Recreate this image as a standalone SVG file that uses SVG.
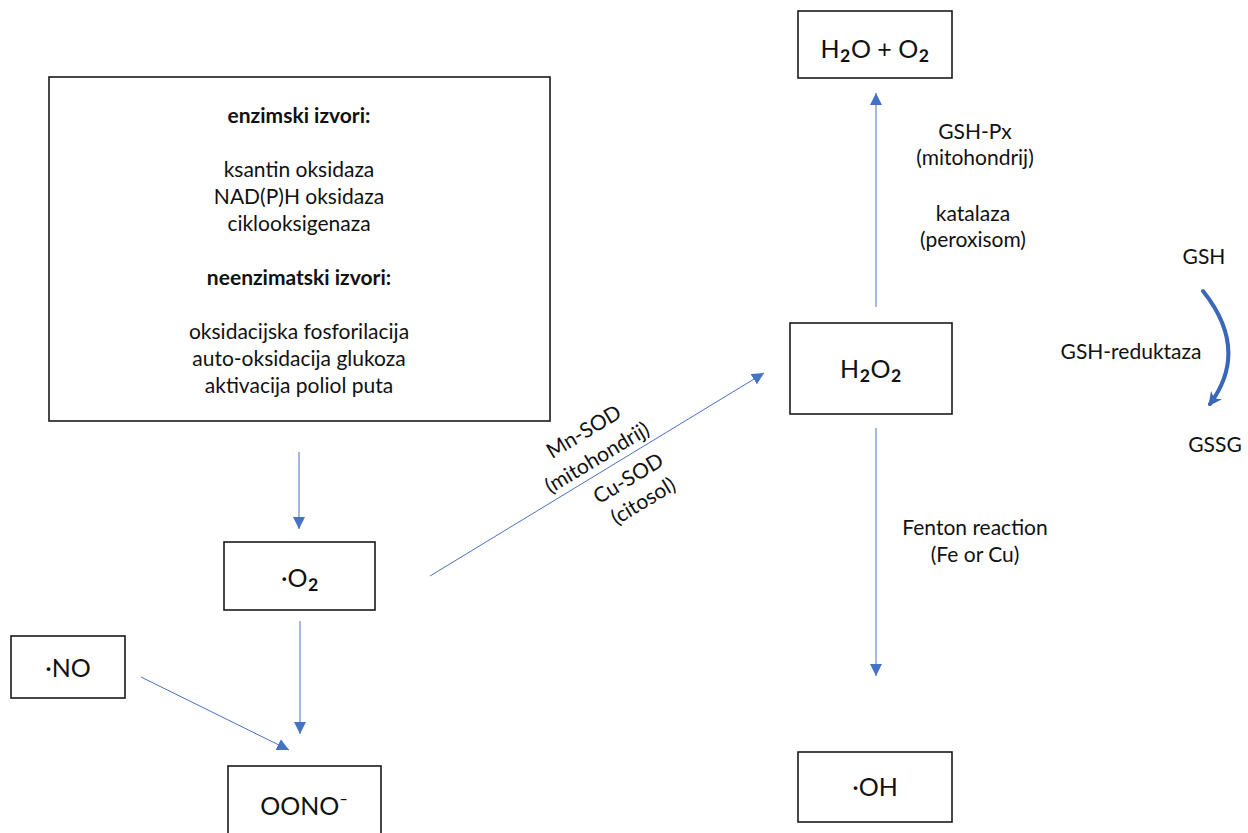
<svg xmlns="http://www.w3.org/2000/svg" width="1248" height="833" viewBox="0 0 1248 833">
<defs>
<style>
.box{fill:#fff;stroke:#1a1a1a;stroke-width:1.6}
.t{font-family:Lato,"Noto Sans","DejaVu Sans",sans-serif;font-size:21px;fill:#111;text-anchor:middle}
.b{font-weight:bold}
.n{font-family:Lato,"Noto Sans","DejaVu Sans",sans-serif;font-size:25px;fill:#111;text-anchor:middle}
.s{font-size:34px}
.c{stroke:#4A72C0;stroke-width:1;fill:none}
.cv{stroke:#3A67B8;stroke-width:4;fill:none;stroke-linecap:round}
</style>
<marker id="ah" markerUnits="userSpaceOnUse" markerWidth="12" markerHeight="12" viewBox="0 0 10 10" refX="10" refY="5" orient="auto">
<path d="M0,0 L10,5 L0,10 z" fill="#4472C4"/>
</marker>
<marker id="ah2" markerUnits="userSpaceOnUse" markerWidth="14" markerHeight="14" viewBox="0 0 10 10" refX="8" refY="5" orient="auto">
<path d="M0,0 L10,5 L0,10 L3,5 z" fill="#3A67B8"/>
</marker>
</defs>

<g id="sources">
<rect class="box" x="49" y="77" width="501" height="344"/>
<text class="t b" x="299" y="123">enzimski izvori:</text>
<text class="t" x="299" y="177">ksantin oksidaza</text>
<text class="t" x="299" y="204">NAD(P)H oksidaza</text>
<text class="t" x="299" y="231">ciklooksigenaza</text>
<text class="t b" x="299" y="285">neenzimatski izvori:</text>
<text class="t" x="299" y="339">oksidacijska fosforilacija</text>
<text class="t" x="299" y="366">auto-oksidacija glukoza</text>
<text class="t" x="299" y="393">aktivacija poliol puta</text>
</g>

<g id="superoxide">
<rect class="box" x="224" y="542" width="151" height="68"/>
<text class="n" x="300" y="587">·O<tspan class="s">₂</tspan></text>
</g>

<g id="no">
<rect class="box" x="11" y="636" width="114" height="62"/>
<text class="n" x="68" y="677">·NO</text>
</g>

<g id="peroxynitrite">
<rect class="box" x="228" y="766" width="153" height="80"/>
<text class="n" x="304" y="815">OONO⁻</text>
</g>

<g id="h2o2">
<rect class="box" x="790" y="323" width="162" height="91"/>
<text class="n" x="871" y="378">H<tspan class="s">₂</tspan>O<tspan class="s">₂</tspan></text>
</g>

<g id="h2o_o2">
<rect class="box" x="798" y="11" width="154" height="67"/>
<text class="n" x="875" y="58">H<tspan class="s">₂</tspan>O + O<tspan class="s">₂</tspan></text>
</g>

<g id="oh">
<rect class="box" x="798" y="752" width="154" height="70"/>
<text class="n" x="875" y="796">·OH</text>
</g>

<g id="labels">
<text class="t" x="975" y="139">GSH-Px</text>
<text class="t" x="975" y="165">(mitohondrij)</text>
<text class="t" x="973" y="221">katalaza</text>
<text class="t" x="973" y="247">(peroxisom)</text>
<text class="t" x="975" y="535">Fenton reaction</text>
<text class="t" x="975" y="562">(Fe or Cu)</text>
<text class="t" x="1204" y="264">GSH</text>
<text class="t" x="1131" y="359">GSH-reduktaza</text>
<text class="t" x="1215" y="452">GSSG</text>
<g transform="translate(610,467.5) rotate(-31.1)">
<text class="t" x="-4" y="-37">Mn-SOD</text>
<text class="t" x="-6" y="-8">(mitohondrij)</text>
<text class="t" x="10" y="26">Cu-SOD</text>
<text class="t" x="11" y="53">(citosol)</text>
</g>
</g>

<g id="connectors">
<line class="c" x1="299" y1="452" x2="299" y2="529" marker-end="url(#ah)"/>
<line class="c" x1="300" y1="621" x2="300" y2="734" marker-end="url(#ah)"/>
<line class="c" x1="141" y1="677" x2="289" y2="750" marker-end="url(#ah)"/>
<line class="c" x1="430" y1="576" x2="764" y2="373" marker-end="url(#ah)"/>
<line class="c" x1="876" y1="307" x2="876" y2="93" marker-end="url(#ah)"/>
<line class="c" x1="876" y1="428" x2="876" y2="676" marker-end="url(#ah)"/>
<path class="cv" d="M1203,291 Q1250,350 1210,404" marker-end="url(#ah2)"/>
</g>
</svg>
